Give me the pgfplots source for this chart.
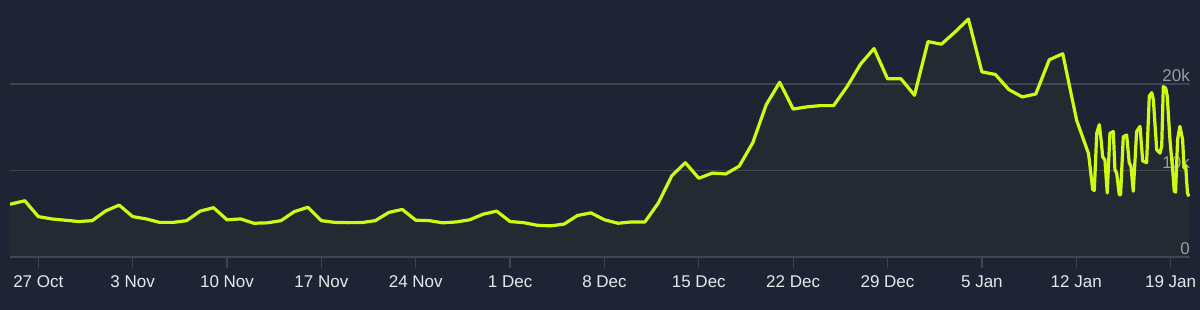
\documentclass[border=0pt]{standalone}
\usepackage{pgfplots}
\usepackage{pgfplotstable}
\pgfplotsset{compat=1.18}
\usepackage{fontspec}
\setmainfont{Liberation Sans}
\definecolor{bgc}{RGB}{30,36,51}
\definecolor{gridc}{RGB}{62,68,82}
\definecolor{linec}{RGB}{208,250,20}
\definecolor{xlab}{RGB}{230,233,236}
\definecolor{ylab}{RGB}{150,156,166}
\pgfplotstableread{
d v
-2.1 6100
-1 6500
0 4670
1 4400
2 4250
3 4100
4 4200
5 5330
6 6000
7 4670
8 4400
9 4000
10 4000
11 4200
12 5300
13 5700
14 4300
15 4400
16 3900
17 3950
18 4200
19 5250
20 5750
21 4200
22 4000
23 3970
24 3980
25 4200
26 5150
27 5500
28 4250
29 4200
30 3950
31 4050
32 4300
33 4950
34 5300
35 4100
36 3970
37 3670
38 3600
39 3800
40 4800
41 5100
42 4300
43 3900
44 4050
45 4050
46 6250
47 9400
48 10900
49 9100
50 9700
51 9600
52 10500
53 13200
54 17600
55 20200
56 17100
57 17350
58 17500
59 17500
60 19700
61 22300
62 24100
63 20600
64 20600
65 18700
66 24900
67 24600
68 26000
69 27500
70 21400
71 21100
72 19350
73 18500
74 18850
75 22800
76 23500
77.03 15800
77.9 12000
77.97 11200
78.22 7800
78.34 7700
78.52 14300
78.71 15300
78.84 13600
78.96 11600
79.13 11200
79.3 7400
79.5 14300
79.75 14500
79.87 10100
80.0 9700
80.19 7200
80.29 7200
80.49 13900
80.74 14100
80.93 10900
81.06 10500
81.23 7600
81.48 14500
81.73 15100
81.93 11100
82.22 10900
82.42 18600
82.6 19000
82.72 18200
82.97 12400
83.21 12000
83.34 12800
83.46 19700
83.64 19500
83.75 18600
83.95 13600
84.15 10100
84.27 7600
84.37 7500
84.52 13600
84.69 15100
84.89 13600
85.0 10300
85.12 10500
85.25 7400
85.36 7000
}\players
\begin{document}
\begin{tikzpicture}[x=1pt,y=1pt]
\fill[bgc] (0,0) rectangle (1200,310);
\begin{axis}[
  at={(10pt,53pt)}, anchor=south west,
  scale only axis, width=1180pt, height=257pt,
  xmin=-2.1, xmax=85.44, ymin=0, ymax=29710,
  axis line style={draw=none},
  xtick={0,7,14,21,28,35,42,49,56,63,70,77,84},
  xticklabels={27 Oct,3 Nov,10 Nov,17 Nov,24 Nov,1 Dec,8 Dec,15 Dec,22 Dec,29 Dec,5 Jan,12 Jan,19 Jan},
  xtick pos=bottom, xtick align=outside,
  major tick length=11pt,
  x tick style={draw=gridc, line width=1.3pt},
  xticklabel style={font=\fontsize{17}{20}\selectfont, text=xlab, yshift=-4pt},
  ytick={0,10000,20000},
  yticklabels={0,10k,20k},
  yticklabel pos=right,
  y tick style={draw=none},
  yticklabel style={font=\fontsize{17}{20}\selectfont, text=ylab, anchor=south east, inner sep=1pt, xshift=1pt, yshift=1pt},
  ymajorgrids,
  grid style={draw=gridc, line width=1.3pt},
  scaled y ticks=false,
]
\addplot[fill=linec, fill opacity=0.03, draw=none] table[x=d,y=v]{\players} \closedcycle;
\addplot[linec, line width=3.2pt, line join=round] table[x=d,y=v]{\players};
\end{axis}
\end{tikzpicture}
\end{document}
